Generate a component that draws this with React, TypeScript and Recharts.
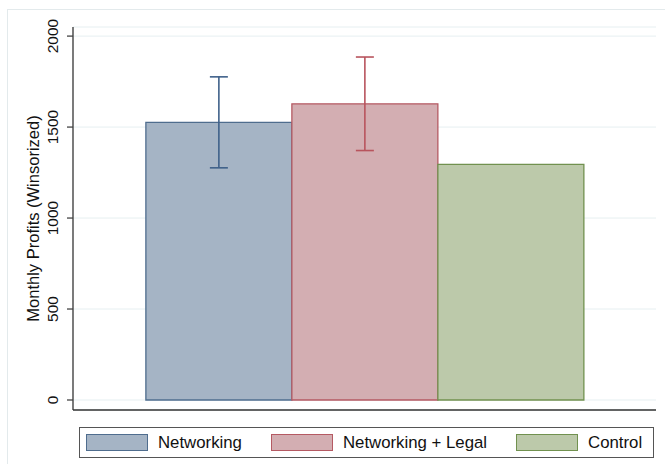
import React from 'react';
import { BarChart, Bar, XAxis, YAxis, CartesianGrid, ErrorBar, Legend } from 'recharts';

const groups = ['Networking', 'Networking + Legal', 'Control'];
const means = [1526, 1628, 1295];
const ciHalf = [250, 257, null];
const yTicks = [0, 500, 1000, 1500, 2000];

const keys = ['g0', 'g1', 'g2'];
const fills = ['#a5b4c5', '#d3aeb2', '#bcc9aa'];
const strokes = ['#4f6d8e', '#b55a63', '#71914f'];
const errColors = ['#3f618a', '#b8545d', '#71914f'];

const row: Record<string, any> = { name: '' };
keys.forEach((k, i) => {
  row[k] = means[i];
  if (ciHalf[i] != null) row[k + 'e'] = ciHalf[i];
});
const data = [row];

const FONT = '"Liberation Sans", Arial, Helvetica, sans-serif';

const YTick = (props: any) => {
  const { x, y, payload } = props;
  const bx = x - 7;
  return (
    <text
      x={bx}
      y={y}
      transform={`rotate(-90, ${bx}, ${y})`}
      textAnchor="middle"
      fontSize={15.5}
      fontFamily={FONT}
      fill="#111"
    >
      {payload.value}
    </text>
  );
};

const LegendBox = () => (
  <div
    style={{
      boxSizing: 'border-box',
      width: 575,
      height: 31,
      border: '1.3px solid #555',
      display: 'flex',
      alignItems: 'center',
      fontFamily: FONT,
      fontSize: 16.8,
      color: '#111',
      paddingLeft: 6,
      background: '#fff',
    }}
  >
    {groups.map((g, i) => (
      <div key={g} style={{ display: 'flex', alignItems: 'center', marginRight: i < 2 ? 29 : 0 }}>
        <div
          style={{
            boxSizing: 'border-box',
            width: 62,
            height: 17,
            background: fills[i],
            border: `1.5px solid ${strokes[i]}`,
            marginRight: 10,
          }}
        />
        <span style={{ whiteSpace: 'nowrap' }}>{g}</span>
      </div>
    ))}
  </div>
);

export default function App() {
  return (
    <div style={{ position: 'absolute', left: 0, top: 0, width: 665, height: 464, background: '#fff', overflow: 'hidden' }}>
      <div
        style={{
          position: 'absolute',
          left: 7,
          top: 9,
          width: 700,
          height: 500,
          border: '1px solid #e3eaec',
        }}
      />
      <div style={{ position: 'absolute', left: 0, top: 0 }}>
        <BarChart
          width={665}
          height={464}
          data={data}
          margin={{ top: 27, right: 9, bottom: 6, left: 8 }}
          barCategoryGap="12.5%"
          barGap={0}
        >
          <CartesianGrid vertical={false} stroke="#e6eff1" strokeWidth={1} />
          <XAxis
            dataKey="name"
            height={17}
            tickSize={7}
            axisLine={{ stroke: '#333', strokeWidth: 1.3 }}
            tickLine={{ stroke: '#444', strokeWidth: 1.3 }}
            tick={false}
          />
          <YAxis
            width={65}
            domain={[-55, 2050]}
            ticks={yTicks}
            allowDataOverflow
            tickSize={6}
            axisLine={{ stroke: '#333', strokeWidth: 1.3 }}
            tickLine={{ stroke: '#444', strokeWidth: 1.3 }}
            tick={<YTick />}
            label={{
              value: 'Monthly Profits (Winsorized)',
              angle: -90,
              position: 'center',
              dx: -7,
              style: { fontFamily: FONT, fontSize: 16.5, fill: '#111' },
            }}
          />
          <Legend
            verticalAlign="bottom"
            content={<LegendBox />}
            wrapperStyle={{ left: 79, width: 575, height: 31 }}
          />
          {keys.map((k, i) => (
            <Bar
              key={k}
              dataKey={k}
              name={groups[i]}
              fill={fills[i]}
              stroke={strokes[i]}
              strokeWidth={1.3}
              isAnimationActive={false}
            >
              {ciHalf[i] != null && (
                <ErrorBar dataKey={k + 'e'} width={9} stroke={errColors[i]} strokeWidth={1.6} />
              )}
            </Bar>
          ))}
        </BarChart>
      </div>
    </div>
  );
}
